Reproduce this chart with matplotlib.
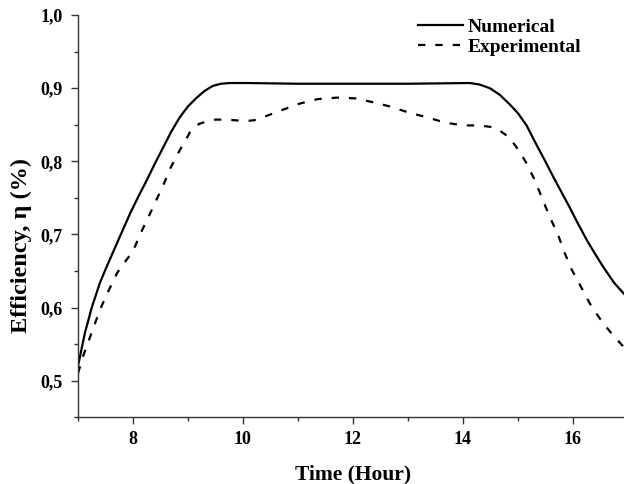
import matplotlib
matplotlib.use("Agg")
import matplotlib.pyplot as plt
from matplotlib.ticker import MultipleLocator, FuncFormatter

# Data
time_num = [7.0, 7.125, 7.25, 7.4, 7.5, 7.75, 7.95, 8.1, 8.25, 8.4, 8.55, 8.7, 8.85,
            9.0, 9.16, 9.3, 9.45, 9.6, 9.76, 10.07, 11.0, 12.0, 13.0, 14.13, 14.3,
            14.49, 14.67, 14.85, 15.0, 15.16, 15.33, 15.5, 15.65, 15.8, 15.95, 16.1,
            16.25, 16.4, 16.55, 16.75, 17.0]
eff_num = [0.520, 0.565, 0.600, 0.634, 0.652, 0.695, 0.729, 0.752, 0.774, 0.797, 0.819,
           0.841, 0.860, 0.875, 0.887, 0.896, 0.903, 0.906, 0.907, 0.907, 0.906, 0.906,
           0.906, 0.907, 0.905, 0.900, 0.891, 0.878, 0.866, 0.849, 0.824, 0.800, 0.778,
           0.757, 0.736, 0.714, 0.693, 0.674, 0.656, 0.634, 0.613]

time_exp = [7.0, 7.1, 7.25, 7.4, 7.55, 7.71, 7.85, 8.0, 8.13, 8.27, 8.4, 8.55, 8.67,
            8.85, 9.04, 9.2, 9.36, 9.5, 9.7, 10.04, 10.2, 10.36, 10.71, 11.04, 11.36,
            11.71, 12.04, 12.35, 12.67, 13.0, 13.35, 13.67, 14.0, 14.31, 14.5, 14.67,
            14.82, 14.95, 15.05, 15.16, 15.31, 15.44, 15.58, 15.73, 15.85, 15.98,
            16.18, 16.35, 16.55, 16.7, 16.89, 17.0]
eff_exp = [0.510, 0.535, 0.566, 0.597, 0.622, 0.647, 0.662, 0.677, 0.700, 0.722, 0.743,
           0.767, 0.789, 0.815, 0.840, 0.851, 0.855, 0.857, 0.857, 0.855, 0.856, 0.860,
           0.870, 0.879, 0.885, 0.887, 0.886, 0.881, 0.875, 0.867, 0.860, 0.853, 0.849,
           0.849, 0.847, 0.842, 0.834, 0.822, 0.811, 0.797, 0.774, 0.750, 0.724, 0.700,
           0.675, 0.652, 0.624, 0.600, 0.579, 0.565, 0.549, 0.541]

x_ticks = [8, 10, 12, 14, 16]
y_ticks = [0.5, 0.6, 0.7, 0.8, 0.9, 1.0]

font = "Liberation Serif"
fig = plt.figure(figsize=(6.24, 4.84), dpi=100)
ax = fig.add_axes([0.125, 0.138, 0.881, 0.831])

ax.plot(time_num, eff_num, color="black", lw=1.6, label="Numerical")
ax.plot(time_exp, eff_exp, color="black", lw=1.6, linestyle=(0, (3.3, 4.5)), label="Experimental")

ax.set_xlim(7, 17)
ax.set_ylim(0.45, 1.0)
ax.spines["top"].set_visible(False)
ax.spines["right"].set_visible(False)
for s in ["left", "bottom"]:
    ax.spines[s].set_linewidth(1.0)
    ax.spines[s].set_color("#333333")

ax.set_xticks(x_ticks)
ax.set_yticks(y_ticks)
ax.xaxis.set_minor_locator(MultipleLocator(1))
ax.yaxis.set_minor_locator(MultipleLocator(0.05))
ax.yaxis.set_major_formatter(FuncFormatter(lambda v, p: f"{v:.1f}".replace(".", ",")))
ax.tick_params(which="major", direction="out", length=5, width=1.0, color="#333333",
               labelsize=13, pad=5)
ax.tick_params(axis="y", which="major", pad=6)
ax.tick_params(which="minor", direction="out", length=3, width=1.0, color="#333333")
for lab in ax.get_xticklabels() + ax.get_yticklabels():
    lab.set_fontfamily(font)
    lab.set_fontweight("bold")

ax.set_xlabel("Time (Hour)", fontfamily=font, fontweight="bold", fontsize=15.5, labelpad=12)
ax.set_ylabel("Efficiency, η (%)", fontfamily=font, fontweight="bold", fontsize=17.5)
ax.yaxis.set_label_coords(-0.083, 0.428)

leg = ax.legend(loc="upper left", bbox_to_anchor=(0.670, 0.962), bbox_transform=fig.transFigure,
                frameon=False, borderpad=0, borderaxespad=0, handlelength=2.3,
                handletextpad=0.25, labelspacing=0.1,
                prop={"family": font, "weight": "bold", "size": 14})

fig.savefig("out.png", dpi=100)
